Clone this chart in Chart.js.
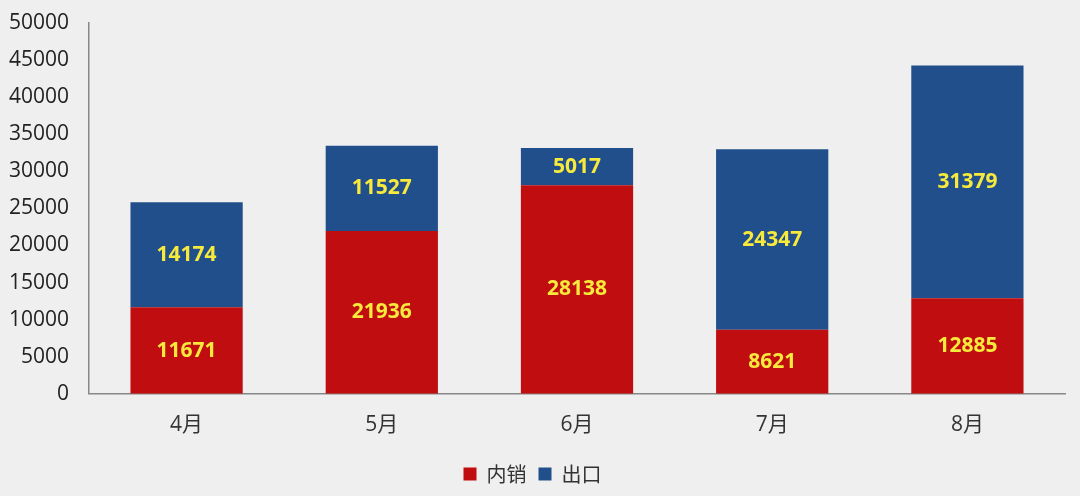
<!DOCTYPE html>
<html>
<head>
<meta charset="utf-8">
<script src="https://cdn.jsdelivr.net/npm/chart.js@4"></script>
<style>
	html, body { margin: 0; padding: 0; background: #efefef; }
	#wrap { width: 1080px; height: 496px; }
</style>
</head>
<body>
<div id="wrap"><canvas id="sales"></canvas></div>
<script>
const months = ["4月", "5月", "6月", "7月", "8月"];
const domestic = [11671, 21936, 28138, 8621, 12885];
const exports = [14174, 11527, 5017, 24347, 31379];

// draw the yellow value in the middle of every bar
const valueLabels = {
	id: "valueLabels",
	afterDatasetsDraw(chart) {
		const c = chart.ctx;
		c.save();
		c.font = "bold 21px 'Open Sans', 'Noto Sans', sans-serif";
		c.fillStyle = "#f7ea3c";
		c.textAlign = "center";
		c.textBaseline = "middle";
		chart.data.datasets.forEach((ds, i) => {
			chart.getDatasetMeta(i).data.forEach((bar, j) => {
				const mid = (bar.y + bar.base) / 2;
				c.fillText(ds.data[j], bar.x, mid);
			});
		});
		c.restore();
	},
};

const ctx = document.getElementById("sales").getContext("2d");
new Chart(ctx, {
	type: "bar",
	data: {
		labels: months,
		datasets: [
			{ label: "内销", data: domestic, backgroundColor: "#c00d0f" },
			{ label: "出口", data: exports, backgroundColor: "#214f8b" },
		],
	},
	options: {
		responsive: true,
		maintainAspectRatio: false,
		animation: false,
		layout: { padding: { top: 23, right: 15, left: 0, bottom: 2 } },
		datasets: { bar: { categoryPercentage: 1, barPercentage: 0.575 } },
		plugins: {
			legend: {
				position: "bottom",
				labels: {
					color: "#333",
					font: { size: 20, family: "'Noto Sans CJK SC', sans-serif" },
					boxWidth: 13,
					boxHeight: 13,
					padding: 12,
				},
			},
			tooltip: { enabled: false },
		},
		scales: {
			x: {
				stacked: true,
				grid: { display: false, tickLength: 5 },
				border: { color: "#888", width: 1.5 },
				ticks: {
					color: "#333",
					padding: 14,
					font: { size: 21, family: "'Open Sans', 'Noto Sans CJK SC', sans-serif" },
				},
			},
			y: {
				stacked: true,
				min: 0,
				max: 50000,
				grid: { display: false, tickLength: 16 },
				border: { color: "#888", width: 1.5 },
				afterFit(scale) {
					scale.width = 89;
				},
				ticks: {
					stepSize: 5000,
					color: "#222",
					padding: 4,
					font: { size: 21, family: "'Open Sans', sans-serif" },
					callback: (v) => String(v),
				},
			},
		},
	},
	plugins: [valueLabels],
});
</script>
</body>
</html>
